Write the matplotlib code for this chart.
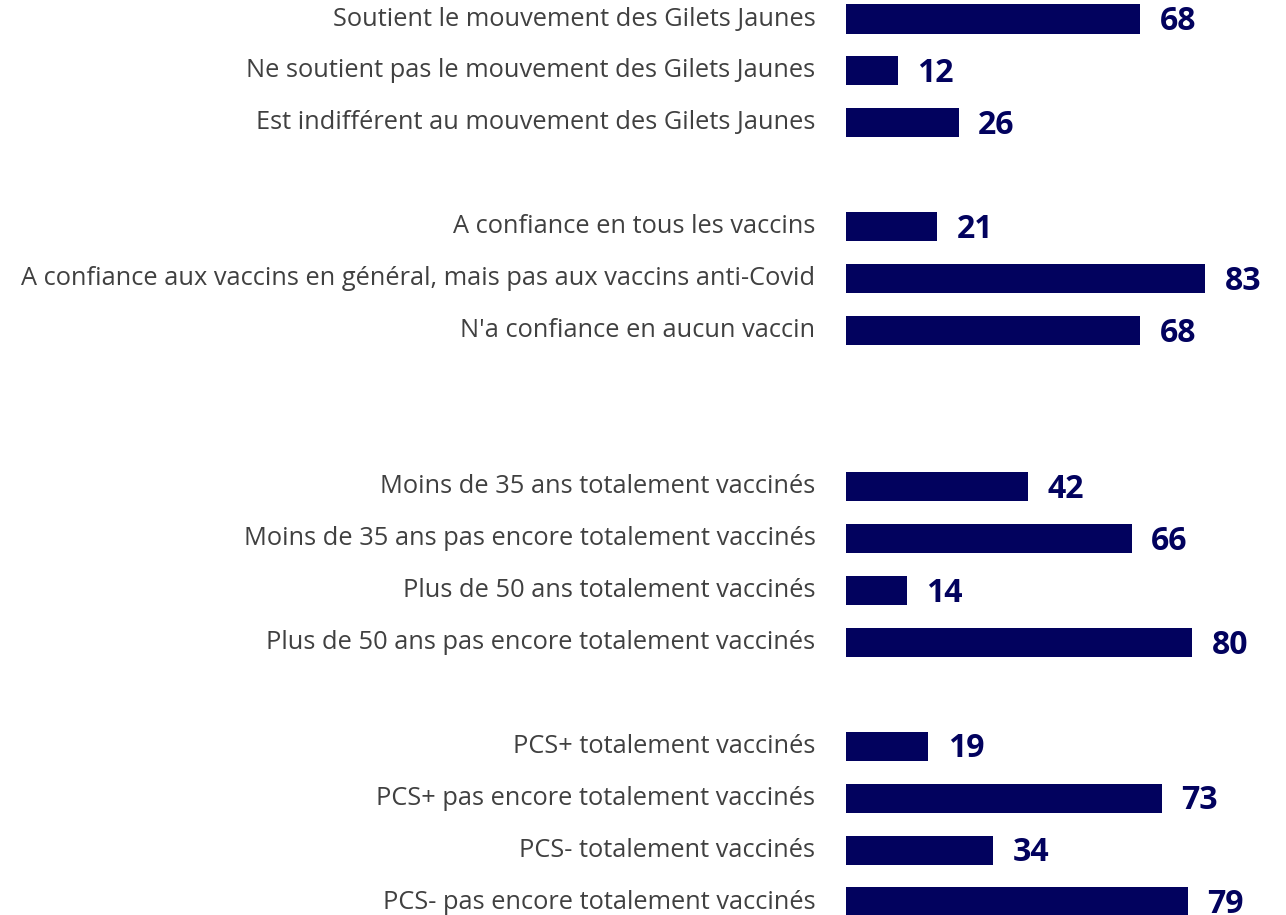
import matplotlib.pyplot as plt

labels = [
    'Soutient le mouvement des Gilets Jaunes',
    'Ne soutient pas le mouvement des Gilets Jaunes',
    'Est indifférent au mouvement des Gilets Jaunes',
    'A confiance en tous les vaccins',
    'A confiance aux vaccins en général, mais pas aux vaccins anti-Covid',
    "N'a confiance en aucun vaccin",
    'Moins de 35 ans totalement vaccinés',
    'Moins de 35 ans pas encore totalement vaccinés',
    'Plus de 50 ans totalement vaccinés',
    'Plus de 50 ans pas encore totalement vaccinés',
    'PCS+ totalement vaccinés',
    'PCS+ pas encore totalement vaccinés',
    'PCS- totalement vaccinés',
    'PCS- pas encore totalement vaccinés',
]
values = [68, 12, 26, 21, 83, 68, 42, 66, 14, 80, 19, 73, 34, 79]
# row slots (blank rows separate the groups)
rows = [0, 1, 2, 4, 5, 6, 9, 10, 11, 12, 14, 15, 16, 17]

navy = '#02025e'
grey = '#404040'

fig = plt.figure(figsize=(12.86, 9.15), dpi=100)
ax = fig.add_axes([846 / 1286, 0, 433 / 1286, 1])

ax.barh(rows, values, height=0.56, color=navy)
ax.set_xlim(0, 100)
ax.set_ylim(17.25, -0.366)

for r, v, lab in zip(rows, values, labels):
    ax.annotate(str(v), (v, r), xytext=(14, -2), textcoords='offset points',
                ha='left', va='center', fontsize=23, fontweight='bold',
                color=navy, family='Open Sans', annotation_clip=False)
    ax.annotate(lab, (0, r), xytext=(-22, 0), textcoords='offset points',
                ha='right', va='center', fontsize=18.3, color=grey,
                family='Open Sans', annotation_clip=False)

ax.axis('off')
fig.savefig('out.png', dpi=100)
